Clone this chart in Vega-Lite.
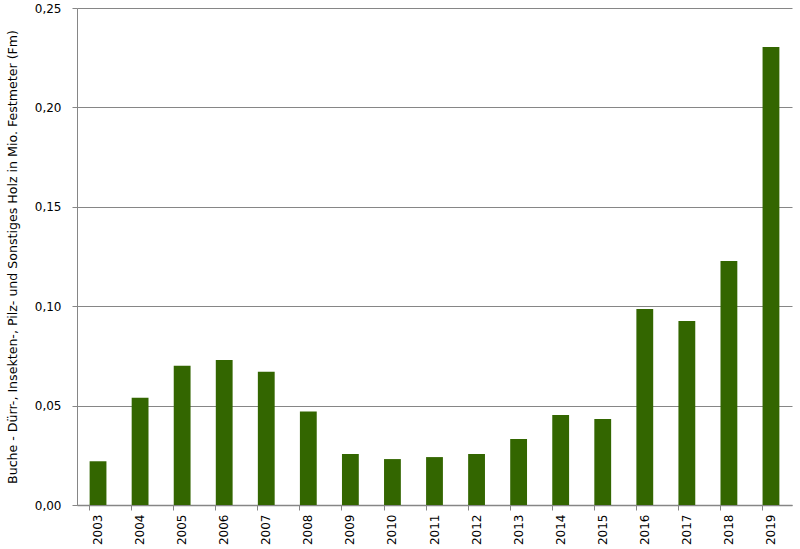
{
  "$schema": "https://vega.github.io/schema/vega-lite/v6.json",
  "width": 715,
  "height": 497,
  "autosize": {"type": "none"},
  "padding": {"left": 77, "top": 8, "right": 8, "bottom": 44},
  "background": "white",
  "config": {
    "view": {"stroke": null},
    "locale": {"number": {"decimal": ",", "thousands": ".", "grouping": [3], "currency": ["", " €"]}},
    "font": "DejaVu Sans",
    "axis": {"labelFont": "DejaVu Sans", "titleFont": "DejaVu Sans", "labelColor": "black", "titleColor": "black", "labelFontSize": 12, "titleFontSize": 12.6, "titleFontWeight": "normal", "domainColor": "#868686", "tickColor": "#868686", "gridColor": "#868686", "gridOpacity": 1, "tickSize": 5}
  },
  "data": {
    "values": [
      {"Jahr": "2003", "Wert": 0.022},
      {"Jahr": "2004", "Wert": 0.054},
      {"Jahr": "2005", "Wert": 0.070},
      {"Jahr": "2006", "Wert": 0.073},
      {"Jahr": "2007", "Wert": 0.067},
      {"Jahr": "2008", "Wert": 0.047},
      {"Jahr": "2009", "Wert": 0.0257},
      {"Jahr": "2010", "Wert": 0.0231},
      {"Jahr": "2011", "Wert": 0.0241},
      {"Jahr": "2012", "Wert": 0.0257},
      {"Jahr": "2013", "Wert": 0.0332},
      {"Jahr": "2014", "Wert": 0.0453},
      {"Jahr": "2015", "Wert": 0.0433},
      {"Jahr": "2016", "Wert": 0.0986},
      {"Jahr": "2017", "Wert": 0.0926},
      {"Jahr": "2018", "Wert": 0.1227},
      {"Jahr": "2019", "Wert": 0.2304}
    ]
  },
  "mark": {"type": "bar", "color": "#336600"},
  "encoding": {
    "x": {
      "field": "Jahr",
      "type": "ordinal",
      "scale": {"paddingInner": 0.6, "paddingOuter": 0.3},
      "axis": {"title": null, "labelAngle": -90, "bandPosition": 0, "labelPadding": 4, "grid": false, "domainWidth": 1.5}
    },
    "y": {
      "field": "Wert",
      "type": "quantitative",
      "scale": {"domain": [0, 0.25], "nice": false},
      "axis": {"title": "Buche - Dürr-, Insekten-, Pilz- und Sonstiges Holz in Mio. Festmeter (Fm)", "values": [0, 0.05, 0.1, 0.15, 0.2, 0.25], "format": ".2f", "labelPadding": 11, "titlePadding": 15, "grid": true, "domainWidth": 1}
    }
  }
}
